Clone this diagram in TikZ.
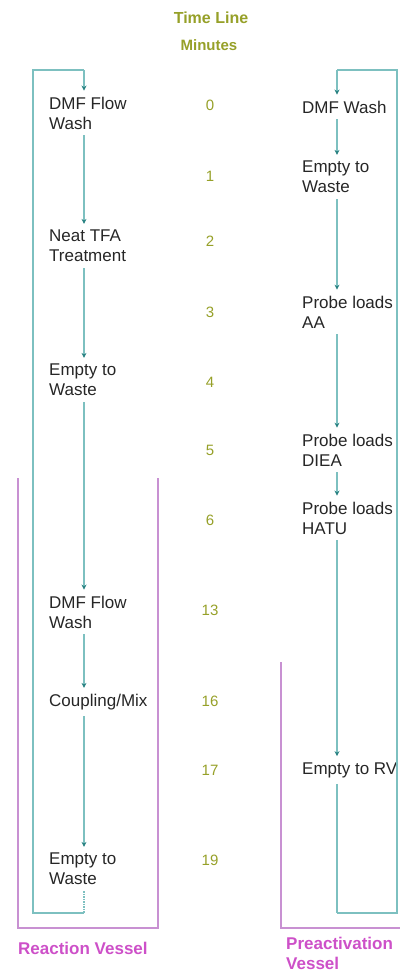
\documentclass[tikz,border=0pt]{standalone}
\usepackage{fontspec}
\setmainfont{Liberation Sans}
\usetikzlibrary{arrows.meta}
\definecolor{tealline}{RGB}{125,192,192}
\definecolor{tealhead}{RGB}{40,130,130}
\definecolor{olivetext}{RGB}{150,160,40}
\definecolor{purpleline}{RGB}{200,145,210}
\definecolor{magtext}{RGB}{205,80,200}
\tikzset{
  stepbox/.style={anchor=west,align=left,inner xsep=0pt,inner ysep=6pt,
    font=\fontsize{17}{20}\selectfont,text=black!85},
  minute/.style={font=\fontsize{15}{18}\selectfont,text=olivetext},
  conn/.style={draw=tealline,line width=1.5pt,
    -{Stealth[length=5pt,width=5pt,color=tealhead]}},
  plain/.style={draw=tealline,line width=1.5pt},
  vessel/.style={draw=purpleline,line width=1.4pt},
  vlabel/.style={anchor=north west,align=left,inner sep=0pt,
    font=\bfseries\fontsize{17}{20}\selectfont,text=magtext},
}
\begin{document}
\begin{tikzpicture}[x=1pt,y=-1pt]
\useasboundingbox (0,0) rectangle (400,972);
% column axes
\coordinate (xl) at (84,0);
\coordinate (xr) at (337,0);
% header
\node[font=\bfseries\fontsize{16}{19}\selectfont,text=olivetext] (tl) at (211,18) {Time Line};
\node[font=\bfseries\fontsize{15}{18}\selectfont,text=olivetext] (mn) at (209,45) {Minutes};
% minutes
\node[minute] (m0) at (210,105) {0};
\node[minute] (m1) at (210,176) {1};
\node[minute] (m2) at (210,241) {2};
\node[minute] (m3) at (210,312) {3};
\node[minute] (m4) at (210,382) {4};
\node[minute] (m5) at (210,450) {5};
\node[minute] (m6) at (210,520) {6};
\node[minute] (m13) at (210,610) {13};
\node[minute] (m16) at (210,701) {16};
\node[minute] (m17) at (210,770) {17};
\node[minute] (m19) at (210,860) {19};
% left column steps
\node[stepbox] (l1) at (49,113) {DMF Flow\\Wash};
\node[stepbox] (l2) at (49,246) {Neat TFA\\Treatment};
\node[stepbox] (l3) at (49,380) {Empty to\\Waste};
\node[stepbox] (l4) at (49,612) {DMF Flow\\Wash};
\node[stepbox] (l5) at (49,702) {Coupling/Mix};
\node[stepbox] (l6) at (49,869) {Empty to\\Waste};
% right column steps
\node[stepbox] (r1) at (302,107) {DMF Wash};
\node[stepbox] (r2) at (302,177) {Empty to\\Waste};
\node[stepbox] (r3) at (302,312) {Probe loads\\AA};
\node[stepbox] (r4) at (302,450) {Probe loads\\DIEA};
\node[stepbox] (r5) at (302,518) {Probe loads\\HATU};
\node[stepbox] (r6) at (302,770) {Empty to RV};
% loop coordinates
\coordinate (lb) at (84,913);
\coordinate (lbl) at (33,913);
\coordinate (ltl) at (33,70);
\coordinate (lt) at (84,70);
\coordinate (rb) at (337,913);
\coordinate (rbr) at (397,913);
\coordinate (rtr) at (397,70);
\coordinate (rt) at (337,70);
% left connectors
\draw[plain] (lb) -- (lbl) -- (ltl) -- (lt);
\draw[conn] (lt) -- (l1.north -| xl);
\draw[conn] (l1.south -| xl) -- (l2.north -| xl);
\draw[conn] (l2.south -| xl) -- (l3.north -| xl);
\draw[conn] (l3.south -| xl) -- (l4.north -| xl);
\draw[conn] (l4.south -| xl) -- (l5.north -| xl);
\draw[conn] (l5.south -| xl) -- (l6.north -| xl);
\draw[plain,densely dotted] (l6.south -| xl) -- (lb);
% right connectors
\draw[plain] (rb) -- (rbr) -- (rtr) -- (rt);
\draw[conn] (rt) -- (r1.north -| xr);
\draw[conn] (r1.south -| xr) -- (r2.north -| xr);
\draw[conn] (r2.south -| xr) -- (r3.north -| xr);
\draw[conn] (r3.south -| xr) -- (r4.north -| xr);
\draw[conn] (r4.south -| xr) -- (r5.north -| xr);
\draw[conn] (r5.south -| xr) -- (r6.north -| xr);
\draw[plain] (r6.south -| xr) -- (rb);
% vessels
\coordinate (va1) at (18,478);
\coordinate (va2) at (18,928);
\coordinate (va3) at (158,928);
\coordinate (va4) at (158,478);
\draw[vessel] (va1) -- (va2) -- (va3) -- (va4);
\coordinate (vb1) at (281,662);
\coordinate (vb2) at (281,928);
\coordinate (vb3) at (400,928);
\draw[vessel] (vb1) -- (vb2) -- (vb3);
\node[vlabel] (rv) at (18,942) {Reaction Vessel};
\node[vlabel] (pv) at (286,937) {Preactivation\\Vessel};
\end{tikzpicture}
\end{document}
